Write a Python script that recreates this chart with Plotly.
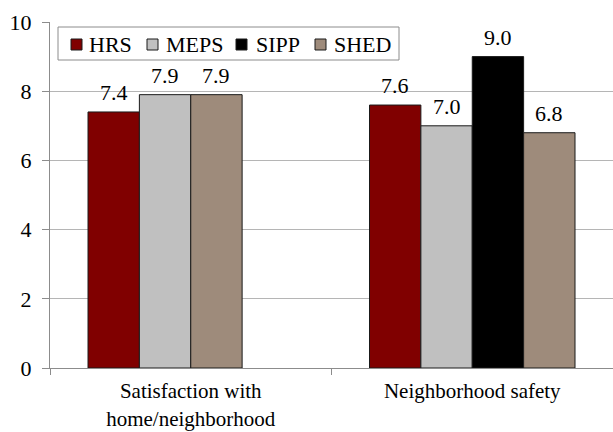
import plotly.graph_objects as go

# Survey measures and their mean scores (0-10 scale)
categories = ["Satisfaction with<br>home/neighborhood", "Neighborhood safety"]
series_names = ["HRS", "MEPS", "SIPP", "SHED"]
hrs = [7.4, 7.6]
meps = [7.9, 7.0]
sipp = [None, 9.0]
shed = [7.9, 6.8]
series_values = [hrs, meps, sipp, shed]
colors = ["#800000", "#C0C0C0", "#000000", "#9E8B7B"]
y_ticks = [0, 2, 4, 6, 8, 10]

FONT = "Liberation Serif"
FS = 22
slot_w = 0.1825                 # width of one bar, in category units
group_start = -2 * slot_w       # left edge of a 4-bar cluster

# Plot-area geometry in pixels (used to place the boxed legend)
L, R, T, B = 50, 0, 22, 64
W, H = 613, 432
PW, PH = W - L - R, H - T - B


def px_x(px):
    return (px - L) / PW


def px_y(py):
    return (H - B - py) / PH


# Within each category, bars that have data sit side by side from the left
slots = [[None] * len(categories) for _ in series_names]
for ci in range(len(categories)):
    k = 0
    for si, vals in enumerate(series_values):
        if vals[ci] is not None:
            slots[si][ci] = k
            k += 1

fig = go.Figure()
annotations = []
shapes = []
for si, (name, vals, col) in enumerate(zip(series_names, series_values, colors)):
    offsets = [group_start + (s if s is not None else 0) * slot_w for s in slots[si]]
    fig.add_trace(go.Bar(
        name=name,
        x=categories,
        y=vals,
        offset=offsets,
        width=slot_w,
        marker=dict(color=col, line=dict(color="#1a1a1a", width=1)),
        hoverinfo="skip",
        showlegend=False,
    ))
    for ci, v in enumerate(vals):
        if v is None:
            continue
        annotations.append(dict(
            x=ci + offsets[ci] + slot_w / 2, y=v, xref="x", yref="y",
            text=f"{v:.1f}", showarrow=False, yanchor="bottom", yshift=5,
            font=dict(family=FONT, size=FS, color="#000"),
        ))

# Boxed legend across the top-left of the plot
shapes.append(dict(
    type="rect", xref="paper", yref="paper",
    x0=px_x(58), x1=px_x(399), y0=px_y(60), y1=px_y(27),
    line=dict(color="#8c8c8c", width=1), fillcolor="white", layer="above",
))
legend_sq_x = [71, 147, 236, 315]
legend_txt_x = [87, 164, 254, 332]
for name, col, sx, tx in zip(series_names, colors, legend_sq_x, legend_txt_x):
    shapes.append(dict(
        type="rect", xref="paper", yref="paper",
        x0=px_x(sx), x1=px_x(sx + 11), y0=px_y(50), y1=px_y(39),
        line=dict(color="#1a1a1a", width=1), fillcolor=col, layer="above",
    ))
    annotations.append(dict(
        x=px_x(tx), y=px_y(44), xref="paper", yref="paper",
        text=name, showarrow=False, xanchor="left", yanchor="middle",
        font=dict(family=FONT, size=FS, color="#000"),
    ))

fig.update_layout(
    width=W, height=H,
    margin=dict(l=L, r=R, t=T, b=B, autoexpand=False),
    paper_bgcolor="white", plot_bgcolor="white",
    barmode="overlay",
    font=dict(family=FONT, size=FS, color="#000"),
    showlegend=False,
    annotations=annotations,
    shapes=shapes,
)
fig.update_xaxes(
    type="category", range=[-0.5, 1.5], automargin=False,
    showline=True, linecolor="#8c8c8c", linewidth=1,
    ticks="outside", tickson="boundaries", ticklen=6, tickcolor="#8c8c8c",
    ticklabelstandoff=4,
    showgrid=False, tickfont=dict(family=FONT, size=21, color="#000"),
)
fig.update_yaxes(
    range=[0, 10], tickvals=y_ticks, automargin=False,
    showline=True, linecolor="#8c8c8c", linewidth=1,
    ticks="outside", ticklen=7, tickcolor="#8c8c8c",
    ticklabelstandoff=6,
    showgrid=True, gridcolor="#b5b5b5", gridwidth=1, zeroline=False,
    tickfont=dict(family=FONT, size=FS, color="#000"),
)

fig.write_html("out.html")
